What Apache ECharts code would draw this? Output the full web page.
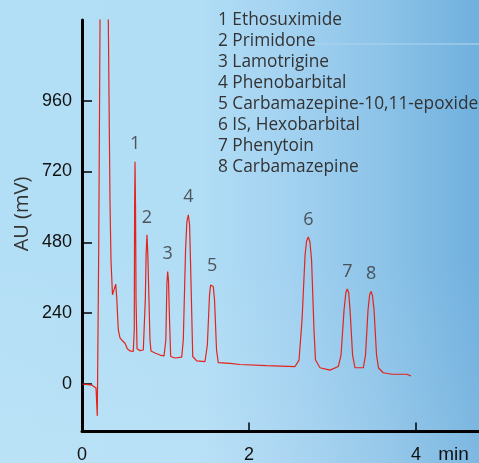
<!DOCTYPE html>
<html>
<head>
<meta charset="utf-8">
<script src="https://cdn.jsdelivr.net/npm/echarts@6/dist/echarts.min.js"></script>
<style>
  html, body { margin: 0; padding: 0; }
  #wrap {
    position: relative; width: 479px; height: 463px; overflow: hidden;
    background:
      linear-gradient(to bottom, rgba(255,255,255,0) 55%, rgba(255,255,255,0.10) 100%),
      linear-gradient(to right, #b3dff6 0%, #b1ddf5 42%, #a3d2f1 60%, #8cc3e8 80%, #70b0de 100%);
  }
  #streak {
    position: absolute; left: 240px; top: 43px; width: 239px; height: 2px;
    background: linear-gradient(to right, rgba(255,255,255,0), rgba(255,255,255,0.25));
  }
  #chart { position: absolute; left: 0; top: 0; width: 479px; height: 463px; }
</style>
</head>
<body>
<div id="wrap"><div id="streak"></div><div id="chart"></div></div>
<script>
// Retention time (min)
var timeMin = [
  0.000, 0.120, 0.168, 0.183, 0.200, 0.216, 0.263, 0.315, 0.335, 0.347,
  0.365, 0.375, 0.404, 0.416, 0.435, 0.455, 0.475, 0.515, 0.543, 0.575,
  0.614, 0.626, 0.630, 0.635, 0.641, 0.647, 0.659, 0.695, 0.734, 0.758,
  0.768, 0.778, 0.788, 0.796, 0.814, 0.826, 0.874, 0.934, 0.982, 1.004,
  1.017, 1.026, 1.036, 1.048, 1.062, 1.114, 1.194, 1.213, 1.240, 1.256,
  1.273, 1.288, 1.299, 1.326, 1.374, 1.473, 1.501, 1.527, 1.540, 1.557,
  1.572, 1.587, 1.611, 1.632, 1.772, 1.892, 2.212, 2.551, 2.599, 2.635,
  2.671, 2.690, 2.710, 2.730, 2.749, 2.778, 2.796, 2.850, 2.970, 3.069,
  3.102, 3.138, 3.160, 3.177, 3.194, 3.210, 3.240, 3.269, 3.369, 3.395,
  3.425, 3.445, 3.461, 3.478, 3.497, 3.527, 3.551, 3.608, 3.709, 3.889,
  3.940
];
// Detector signal AU (mV)
var signalMV = [
  0, -4, -14, -108, 454, 1233, 2400, 1233, 624, 420,
  302, 298, 338, 291, 183, 156, 149, 138, 119, 112,
  110, 183, 600, 753, 600, 285, 119, 113, 115, 285,
  440, 505, 440, 352, 149, 112, 105, 98, 95, 149,
  340, 381, 350, 217, 93, 88, 91, 149, 454, 550,
  573, 540, 420, 93, 78, 76, 132, 302, 335, 341,
  330, 285, 115, 72, 70, 66, 62, 59, 81, 217,
  437, 485, 498, 480, 420, 183, 81, 55, 47, 59,
  98, 251, 310, 322, 308, 251, 98, 55, 55, 98,
  251, 303, 313, 300, 251, 98, 54, 38, 33, 33,
  27
];
// Peak annotations
var peakIds = ['1', '2', '3', '4', '5', '6', '7', '8'];
var peakTimes = [0.635, 0.778, 1.026, 1.273, 1.557, 2.710, 3.177, 3.461];
var peakHeights = [753, 505, 381, 573, 341, 498, 322, 313];
var compoundNames = [
  'Ethosuximide', 'Primidone', 'Lamotrigine', 'Phenobarbital',
  'Carbamazepine-10,11-epoxide', 'IS, Hexobarbital', 'Phenytoin', 'Carbamazepine'
];
// Axis ticks
var yTicks = [0, 240, 480, 720, 960];
var xTicks = [0, 2, 4];

var chart = echarts.init(document.getElementById('chart'), null, { renderer: 'canvas' });

var trace = timeMin.map(function (t, i) { return [t, signalMV[i]]; });
var peakPts = peakTimes.map(function (t, i) { return { value: [t, peakHeights[i]], name: peakIds[i] }; });
var legendText = peakIds.map(function (id, i) { return id + ' ' + compoundNames[i]; }).join('\n');

var option = {
  backgroundColor: 'transparent',
  animation: false,
  grid: { left: 82, right: 0, top: 20, bottom: 31.5, containLabel: false, outerBoundsMode: 'none' },
  xAxis: {
    type: 'value', min: 0, max: 4.754,
    axisLine: { show: true, onZero: false, lineStyle: { color: '#000', width: 3 } },
    axisTick: { show: true, inside: true, length: 9, customValues: xTicks, lineStyle: { color: '#000', width: 1.5 } },
    axisLabel: { customValues: xTicks, margin: 15, fontSize: 18, color: '#111', fontFamily: 'Liberation Sans' },
    splitLine: { show: false }
  },
  yAxis: {
    type: 'value', min: -161, max: 1233,
    axisLine: { show: true, onZero: false, lineStyle: { color: '#000', width: 3 } },
    axisTick: { show: true, inside: true, length: 10, customValues: yTicks, lineStyle: { color: '#000', width: 1.5 } },
    axisLabel: { customValues: yTicks, margin: 10, fontSize: 18, color: '#111', fontFamily: 'Liberation Sans' },
    splitLine: { show: false }
  },
  series: [
    {
      type: 'line', data: trace, symbol: 'none', clip: true, silent: true,
      lineStyle: { color: '#e5231b', width: 1.2 }
    },
    {
      type: 'scatter', data: peakPts, symbolSize: 1, silent: true,
      itemStyle: { color: 'rgba(0,0,0,0)' },
      label: {
        show: true, position: 'top', distance: 8,
        formatter: function (p) { return p.name; },
        fontFamily: 'Open Sans', fontSize: 18, color: '#333'
      }
    }
  ],
  graphic: [
    {
      type: 'text', left: 218, top: 10,
      style: { text: legendText, fontFamily: 'Open Sans', fontSize: 17.3, lineHeight: 21, fill: '#333' }
    },
    {
      type: 'text', x: 22.5, y: 214, rotation: Math.PI / 2,
      style: { text: 'AU (mV)', fontFamily: 'Open Sans', fontSize: 20, fill: '#333', align: 'center', verticalAlign: 'middle' }
    },
    {
      type: 'text', x: 453.5, y: 455,
      style: { text: 'min', fontFamily: 'Liberation Sans', fontSize: 19, fill: '#111', align: 'center', verticalAlign: 'middle' }
    }
  ]
};
chart.setOption(option);
</script>
</body>
</html>
